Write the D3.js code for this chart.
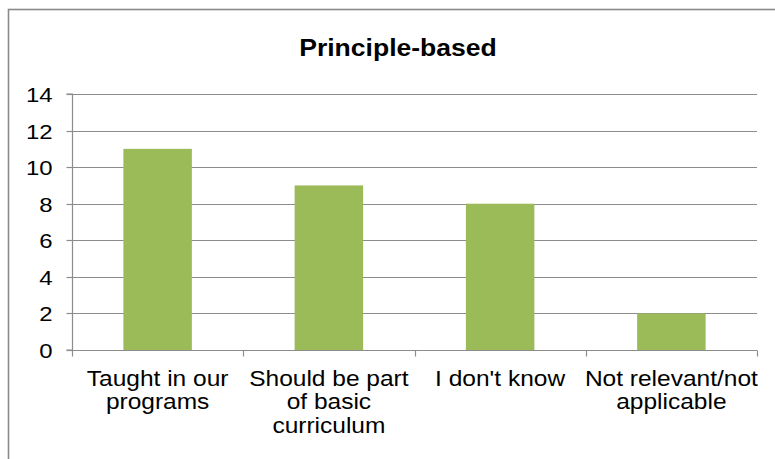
<!DOCTYPE html>
<html><head><meta charset="utf-8">
<script src="https://cdn.jsdelivr.net/npm/d3@7"></script>
<style>body{margin:0;background:#fff}svg{display:block}text{font-family:"Liberation Sans",Arial,sans-serif;fill:#000}</style>
</head><body>
<script>
const categories = [["Taught in our","programs"],["Should be part","of basic","curriculum"],["I don't know"],["Not relevant/not","applicable"]];
const values = [11, 9, 8, 2];
const yTicks = [0, 2, 4, 6, 8, 10, 12, 14];
const title = "Principle-based";

const W = 775, H = 459, SX = 1.14;
const svg = d3.select("body").append("svg").attr("width", W).attr("height", H);
svg.append("rect").attr("x", 8.5).attr("y", 9.5).attr("width", W + 10).attr("height", H + 10)
  .attr("fill", "none").attr("stroke", "#8a8a8a").attr("stroke-width", 1.6);

const x0 = 72, x1 = 757, yTop = 94, yBot = 350;
const x = d3.scaleBand().domain(d3.range(categories.length)).range([x0, x1]).padding(0);
const y = d3.scaleLinear().domain([0, 14]).range([yBot, yTop]);

const grid = svg.append("g");
grid.selectAll("line").data(yTicks.filter(t => t > 0)).join("line")
  .attr("x1", x0).attr("x2", x1).attr("y1", d => Math.round(y(d)) + 0.5).attr("y2", d => Math.round(y(d)) + 0.5)
  .attr("stroke", "#8c8c8c").attr("stroke-width", 1.2);

const bw = x.bandwidth() * 0.4;
svg.append("g").selectAll("rect").data(values).join("rect")
  .attr("x", (d, i) => x(i) + (x.bandwidth() - bw) / 2).attr("width", bw)
  .attr("y", d => y(d)).attr("height", d => y(0) - y(d)).attr("fill", "#9BBB59");

// y axis
const ya = svg.append("g").attr("transform", `translate(${x0 + 0.5},0)`)
  .call(d3.axisLeft(y).tickValues(yTicks).tickSize(6).tickFormat(d3.format("d")));
ya.select(".domain").attr("stroke", "#8c8c8c").attr("stroke-width", 1.2).attr("d", `M-6,${yTop}H0V${yBot}H-6`);
ya.selectAll(".tick line").attr("stroke", "#8c8c8c").attr("stroke-width", 1.2);
ya.selectAll(".tick").attr("transform", d => `translate(0,${Math.round(y(d)) + 0.5})`);
ya.selectAll(".tick text").attr("x", 0).attr("dy", "0.35em")
  .attr("transform", `translate(-20,0) scale(${SX},1)`).style("font-size", "21px").style("font-family", "Liberation Sans, Arial, sans-serif").attr("fill", "#000");

// x axis
const xa = svg.append("g").attr("transform", `translate(0,${yBot + 0.5})`);
xa.append("line").attr("x1", x0).attr("x2", x1).attr("stroke", "#8c8c8c").attr("stroke-width", 1.2);
xa.selectAll(".xt").data(d3.range(categories.length + 1)).join("line").attr("class", "xt")
  .attr("x1", i => Math.round(i < categories.length ? x(i) : x1) + 0.5).attr("x2", i => Math.round(i < categories.length ? x(i) : x1) + 0.5)
  .attr("y1", 0).attr("y2", 6).attr("stroke", "#8c8c8c").attr("stroke-width", 1.2);

const lab = svg.append("g").selectAll("text").data(categories).join("text")
  .attr("transform", (d, i) => `translate(${x(i) + x.bandwidth() / 2},385.5) scale(${SX},1)`)
  .attr("text-anchor", "middle").style("font-size", "21.5px");
lab.selectAll("tspan").data(d => d).join("tspan").attr("x", 0).attr("y", (d, j) => j * 24).text(d => d);

svg.append("text").attr("transform", `translate(398,56) scale(1.13,1)`).attr("text-anchor", "middle")
  .style("font-size", "23.5px").style("font-weight", "bold").text(title);
</script>
</body></html>
